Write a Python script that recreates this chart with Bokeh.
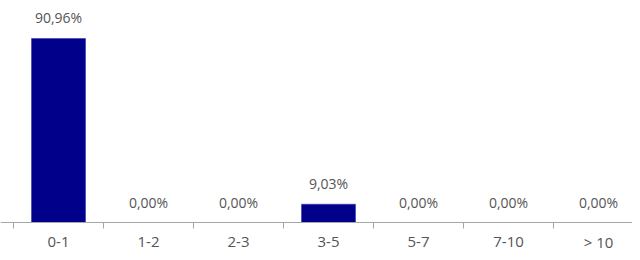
from bokeh.plotting import figure
from bokeh.models import ColumnDataSource, Range1d, Span
from bokeh.embed import file_html
from bokeh.resources import INLINE
from bokeh.core.properties import value

categories = ["0-1", "1-2", "2-3", "3-5", "5-7", "7-10", "> 10"]
values = [90.96, 0.00, 0.00, 9.03, 0.00, 0.00, 0.00]
labels = [f"{v:.2f}%".replace(".", ",") for v in values]

n = len(categories)
xs = [i + 0.5 for i in range(n)]
bounds = list(range(n + 1))
src = ColumnDataSource(dict(x=xs, top=values, lab=labels, cat=categories))

FONT = "Open Sans"
TXT = "#555555"
AXC = "#a6a6a6"
W, H = 632, 252
BASE = 222      # pixel row of the category axis line
PX = 2.023      # pixels per percent unit
CW = 90.0       # pixels per category
LEFT = 13

p = figure(width=W, height=H, output_backend="svg", toolbar_location=None,
           x_range=Range1d(-LEFT / CW, (W - LEFT) / CW),
           y_range=Range1d(-(H - BASE) / PX, BASE / PX),
           x_axis_type=None, y_axis_type=None,
           min_border_left=0, min_border_right=0, min_border_top=0, min_border_bottom=0)
p.outline_line_color = None
p.xgrid.visible = False
p.ygrid.visible = False

p.vbar(x="x", top="top", width=0.6, bottom=0, source=src,
       fill_color="#00008B", line_color="#3a3ab0", line_width=0.6)
p.text(x="x", y="top", text="lab", source=src, text_align="center",
       text_baseline="bottom", y_offset=-11, text_font=value(FONT),
       text_font_size="14px", text_color=TXT)

# category axis: baseline, boundary ticks, labels
p.add_layout(Span(location=0, dimension="width", line_color=AXC, line_width=1))
p.segment(x0=bounds, y0=[0] * (n + 1), x1=bounds, y1=[-6 / PX] * (n + 1),
          line_color=AXC, line_width=1)
p.text(x="x", y=0, text="cat", source=src, text_align="center",
       text_baseline="middle", y_offset=19, text_font=value(FONT),
       text_font_size="15px", text_color=TXT)

open("out.html", "w").write(file_html(p, INLINE))
